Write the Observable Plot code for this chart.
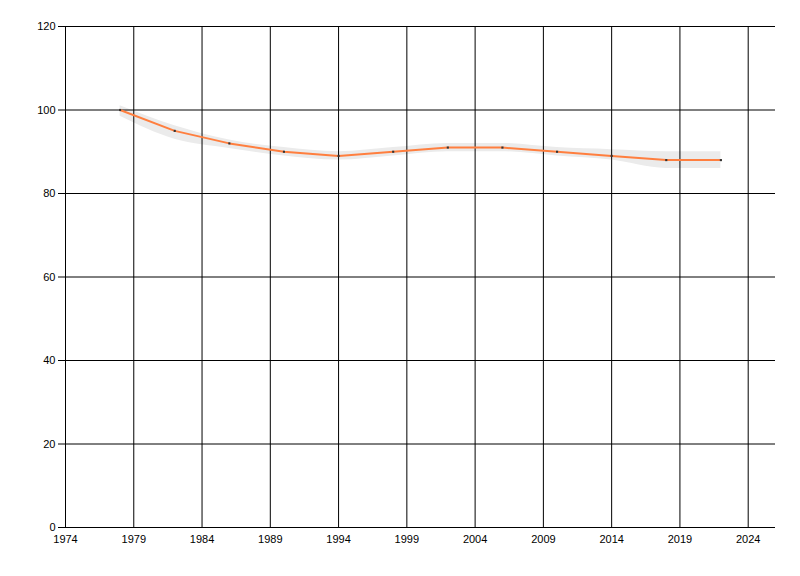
<!DOCTYPE html>
<html><head>
<meta charset="utf-8">
<script src="https://cdn.jsdelivr.net/npm/d3@7"></script>
<script src="https://cdn.jsdelivr.net/npm/@observablehq/plot@0.6"></script>
<style>body{margin:0;background:#fff}</style>
</head><body><div id="chart"></div>
<script>
const years  = [1978, 1982, 1986, 1990, 1994, 1998, 2002, 2006, 2010, 2014, 2018, 2022];
const values = [100, 95, 92, 90, 89, 90, 91, 91, 90, 89, 88, 88];
const lower  = [98.5, 93, 90.8, 89, 88, 89, 90, 90, 89, 88, 86, 86];
const upper  = [101, 96.2, 92.8, 91, 90, 91, 92, 92, 91, 90.5, 90, 90];
const xTicks = [1974, 1979, 1984, 1989, 1994, 1999, 2004, 2009, 2014, 2019, 2024];
const yTicks = [0, 20, 40, 60, 80, 100, 120];

const data = years.map((y, i) => ({year: y, value: values[i], lo: lower[i], hi: upper[i]}));

const chart = Plot.plot({
  width: 800, height: 576,
  marginLeft: 65, marginRight: 25, marginTop: 26, marginBottom: 49,
  style: {fontFamily: "Liberation Sans, Arial, sans-serif", fontSize: "11px", background: "#fff", color: "#000"},
  x: {domain: [1974, 2026], label: null},
  y: {domain: [0, 120], label: null},
  marks: [
    Plot.areaY(data, {x: "year", y1: "lo", y2: "hi", fill: "#ebebeb", curve: "monotone-x"}),
    Plot.gridX(xTicks, {stroke: "#000", strokeOpacity: 1}),
    Plot.gridY(yTicks, {stroke: "#000", strokeOpacity: 1}),
    Plot.axisX(xTicks, {tickSize: 0, tickPadding: 8, tickFormat: d => String(d), label: null}),
    Plot.axisY(yTicks, {tickSize: 7, tickPadding: 3, label: null}),
    Plot.lineY(data, {x: "year", y: "value", stroke: "#ff7f3f", strokeWidth: 2, curve: "linear"}),
    Plot.dot(data, {x: "year", y: "value", symbol: "square", r: 1.2, fill: "#333", stroke: "none"})
  ]
});
document.getElementById("chart").appendChild(chart);
</script>
</body></html>
